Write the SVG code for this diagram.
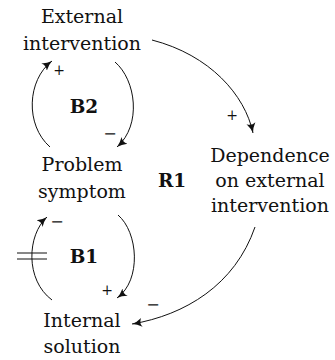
<svg xmlns="http://www.w3.org/2000/svg" width="335" height="360" viewBox="0 0 335 360">
<style>
text{font-family:"DejaVu Serif",serif;fill:#111;text-anchor:middle}
.t{font-size:19px}
.b{font-size:18.5px;font-weight:bold}
.p{font-size:14px}
.m{font-size:16px}
.c{fill:none;stroke:#111;stroke-width:1}
</style>
<defs>
<marker id="ah" markerWidth="12" markerHeight="12" refX="10" refY="5" orient="auto" markerUnits="userSpaceOnUse" viewBox="0 0 12 10">
<path d="M0,0.5 Q5,4 10,5 Q5,6 0,9.5 Q3,5 0,0.5Z" fill="#111"/>
</marker>
</defs>
<g id="connectors">
<path class="c" d="M115,62 C136,80 142,125 117,147" marker-end="url(#ah)"/>
<path class="c" d="M50,147 C25,125 27,80 52,61" marker-end="url(#ah)"/>
<path class="c" d="M118,215 C138,232 142,280 117,298" marker-end="url(#ah)"/>
<path class="c" d="M52,300 C25,280 27,235 47,217" marker-end="url(#ah)"/>
<path class="c" d="M152,40 C210,55 245,95 253,133" marker-end="url(#ah)"/>
<path class="c" d="M255,227 C235,285 185,315 132,324" marker-end="url(#ah)"/>
<path class="c" d="M17,253 H47 M17,259 H47"/>
<text class="m" x="110" y="139">−</text>
<text class="p" x="59" y="75">+</text>
<text class="p" x="107" y="295">+</text>
<text class="m" x="57" y="227">−</text>
<text class="p" x="232" y="120">+</text>
<text class="m" x="153" y="310">−</text>
</g>
<g id="external-intervention"><text class="t" x="82" y="23">External</text><text class="t" x="82" y="50">intervention</text></g>
<g id="problem-symptom"><text class="t" x="82" y="171">Problem</text><text class="t" x="82" y="198">symptom</text></g>
<g id="internal-solution"><text class="t" x="82" y="327">Internal</text><text class="t" x="82" y="353">solution</text></g>
<g id="dependence"><text class="t" x="270" y="162">Dependence</text><text class="t" x="270" y="187">on external</text><text class="t" x="270" y="212">intervention</text></g>
<g id="loop-labels"><text class="b" x="84" y="113">B2</text><text class="b" x="172" y="187">R1</text><text class="b" x="84" y="263">B1</text></g>
</svg>
